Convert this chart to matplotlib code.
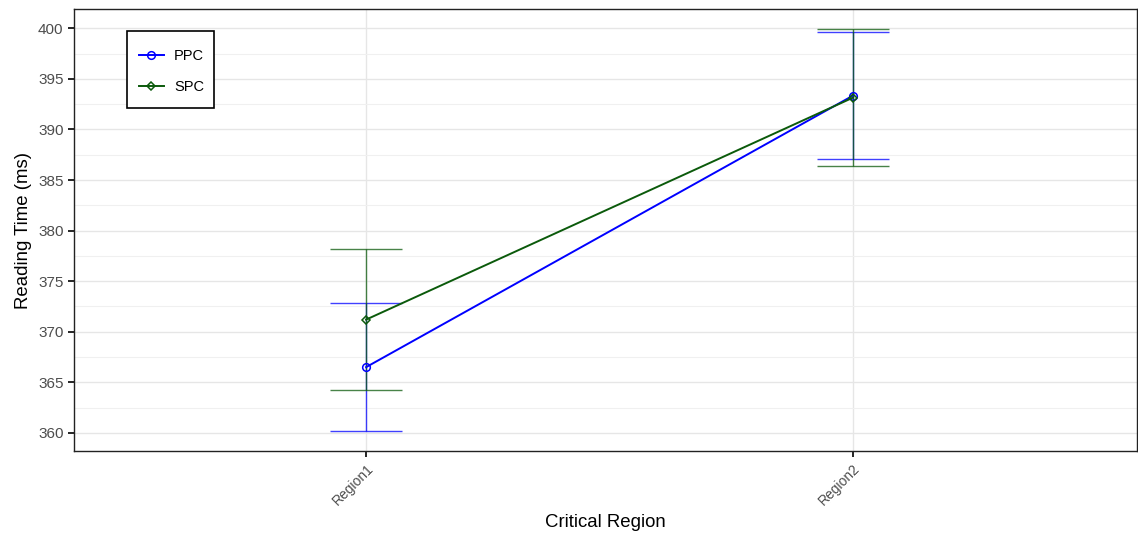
import matplotlib
matplotlib.use("Agg")
import matplotlib.pyplot as plt
import numpy as np
from matplotlib.ticker import MultipleLocator
from matplotlib.patches import Rectangle

plt.rcParams['font.family'] = ['Liberation Sans', 'DejaVu Sans']

regions = ["Region1", "Region2"]
ppc_mean = [366.5, 393.35]
ppc_err = [6.3, 6.3]
spc_mean = [371.2, 393.15]
spc_err = [7.0, 6.8]

fig = plt.figure(figsize=(11.38, 5.37), dpi=100)
ax = fig.add_axes([0.065, 0.160, 0.934, 0.823])

x = np.arange(len(regions))
blue = "#0000FF"
green = "#0B5A0B"

ax.errorbar(x, ppc_mean, yerr=ppc_err, fmt='none', ecolor=blue, elinewidth=1.0,
            capsize=26, capthick=1.0, alpha=0.75, zorder=3)
ax.errorbar(x, spc_mean, yerr=spc_err, fmt='none', ecolor=green, elinewidth=1.0,
            capsize=26, capthick=1.0, alpha=0.75, zorder=3)
ax.plot(x, ppc_mean, color=blue, lw=1.4, marker='o', ms=5.5, mfc='none', mew=1.1,
        label='PPC', zorder=4)
ax.plot(x, spc_mean, color=green, lw=1.4, marker='D', ms=4.5, mfc='none', mew=1.1,
        label='SPC', zorder=4)

ax.set_xlim(-0.6, 1.583)
ax.set_ylim(358.2, 401.9)
ax.set_xticks(x)
ax.set_xticklabels(regions, rotation=45, ha='right', rotation_mode='anchor',
                   fontsize=10, color='#4d4d4d')
ax.yaxis.set_major_locator(MultipleLocator(5))
ax.yaxis.set_minor_locator(MultipleLocator(2.5))
ax.tick_params(axis='y', which='major', labelsize=11, labelcolor='#4d4d4d',
               length=4, width=1.2, direction='out')
ax.tick_params(axis='y', which='minor', length=0)
ax.tick_params(axis='x', length=4, width=1.2, direction='out')

ax.grid(True, which='major', color='#e6e6e6', lw=1.0, zorder=0)
ax.grid(True, which='minor', axis='y', color='#f0f0f0', lw=0.8, zorder=0)
ax.set_axisbelow(True)
for s in ax.spines.values():
    s.set_color('#222222')
    s.set_linewidth(1.0)

ax.set_xlabel("Critical Region", fontsize=13.4)
ax.set_ylabel("Reading Time (ms)", fontsize=13.4)

# legend box (frame drawn separately to match padding)
ax.add_patch(Rectangle((0.0499, 0.776), 0.0818, 0.1742, transform=ax.transAxes,
                       facecolor='white', edgecolor='black', lw=1.2, zorder=5))
leg = ax.legend(loc='upper left', bbox_to_anchor=(0.0611, 0.909), fontsize=10.5,
                frameon=False, borderpad=0, labelspacing=1.12, handlelength=1.7,
                handletextpad=0.7, borderaxespad=0)
leg.set_zorder(6)

fig.savefig("out.png", dpi=100)
